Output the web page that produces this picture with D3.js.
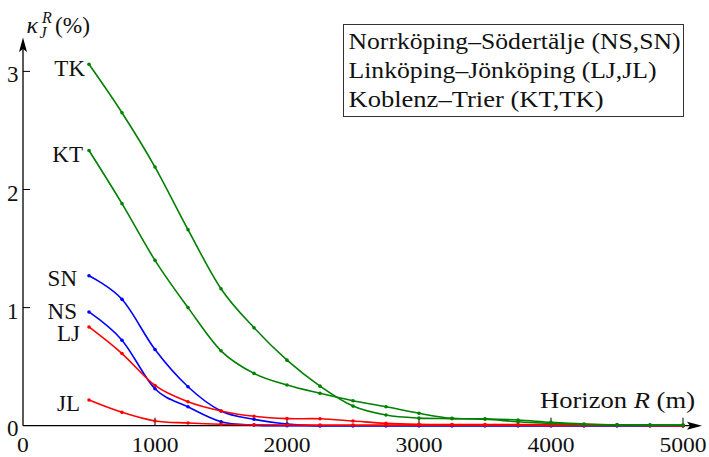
<!DOCTYPE html>
<html><head><meta charset="utf-8">
<script src="https://cdn.jsdelivr.net/npm/d3@7"></script>
<style>body{margin:0;background:#fff}svg{display:block}</style>
</head><body>
<svg id="c" width="709" height="457"></svg>
<script>
const horizons = [500,750,1000,1250,1500,1750,2000,2250,2500,2750,3000,3250,3500,3750,4000,4250,4500,4750,5000];
const NS = [0.963,0.724,0.313,0.16,0.034,0.005,0,0,0,0,0,0,0,0,0,0,0,0,0];
const SN = [1.27,1.07,0.645,0.33,0.125,0.054,0.015,0,0,0,0,0,0,0,0,0,0,0,0];
const LJ = [0.836,0.611,0.341,0.203,0.125,0.08,0.06,0.059,0.04,0.02,0.012,0.01,0.01,0.01,0.01,0.01,0.008,0.003,0];
const JL = [0.217,0.113,0.04,0.023,0.012,0.008,0.006,0.005,0.005,0.005,0.005,0.005,0.004,0.004,0.003,0.003,0.002,0.001,0];
const KT = [2.33,1.88,1.40,1.0,0.634,0.443,0.344,0.274,0.211,0.16,0.105,0.062,0.059,0.048,0.029,0.015,0.008,0.005,0.005];
const TK = [3.06,2.65,2.19,1.66,1.16,0.83,0.555,0.335,0.166,0.09,0.064,0.06,0.054,0.034,0.02,0.01,0.005,0.005,0.005];
const seriesNames = ["NS","SN","LJ","JL","KT","TK"];
const seriesValues = [NS,SN,LJ,JL,KT,TK];
const seriesColors = ["#0000ff","#0000ff","#ff0000","#ff0000","#008000","#008000"];
const legendLines = ["Norrköping–Södertälje (NS,SN)","Linköping–Jönköping (LJ,JL)","Koblenz–Trier (KT,TK)"];
const xTicks = [0,1000,2000,3000,4000,5000];
const yTicks = [0,1,2,3];

const FONT = "Liberation Serif";
const svg = d3.select("#c");
const x = d3.scaleLinear().domain([0,5000]).range([23,683]);
const y = d3.scaleLinear().domain([0,3]).range([425.7,71.4]);
const txt = (sel)=>sel.append("text").attr("font-family",FONT).attr("fill","#111");

// axes
const ax = svg.append("g");
ax.append("line").attr("x1",x(0)).attr("x2",692).attr("y1",y(0)).attr("y2",y(0)).attr("stroke","#000").attr("stroke-width",1.3);
ax.append("line").attr("x1",x(0)).attr("x2",x(0)).attr("y1",y(0)).attr("y2",46).attr("stroke","#000").attr("stroke-width",1.3);
ax.append("path").attr("d",`M${x(0)},37.5 L${x(0)-4},52 L${x(0)},49 L${x(0)+4},52 Z`).attr("fill","#000");
ax.append("path").attr("d",`M702,${y(0)} L687,${y(0)-4} L690,${y(0)} L687,${y(0)+4} Z`).attr("fill","#000");
xTicks.filter(d=>d>0).forEach(d=>{
  ax.append("line").attr("x1",x(d)).attr("x2",x(d)).attr("y1",y(0)).attr("y2",y(0)-8).attr("stroke","#000").attr("stroke-width",1);
});
xTicks.forEach(d=>{
  txt(ax).attr("x",x(d)).attr("y",452).attr("text-anchor","middle").attr("font-size",22)
    .attr("textLength",String(d).length*11.8).attr("lengthAdjust","spacingAndGlyphs").text(d);
});
yTicks.filter(d=>d>0).forEach(d=>{
  ax.append("line").attr("x1",x(0)).attr("x2",x(0)+7).attr("y1",y(d)).attr("y2",y(d)).attr("stroke","#000").attr("stroke-width",1);
});
yTicks.forEach(d=>{
  txt(ax).attr("x",18.5).attr("y",y(d)+(d===0?10:11)).attr("text-anchor","end").attr("font-size",23).text(d);
});

// y label
const yl = svg.append("g");
txt(yl).attr("x",26.5).attr("y",33).attr("font-size",24).attr("font-style","italic").text("κ");
txt(yl).attr("x",42).attr("y",23).attr("font-size",16).attr("font-style","italic").text("R");
txt(yl).attr("x",39.5).attr("y",37.5).attr("font-size",16).attr("font-style","italic").text("J");
txt(yl).attr("x",55).attr("y",32.5).attr("font-size",23).attr("textLength",35).attr("lengthAdjust","spacingAndGlyphs").text("(%)");

// x label
const xl = txt(svg).attr("x",540).attr("y",407.5).attr("font-size",23).attr("textLength",155).attr("lengthAdjust","spacingAndGlyphs");
xl.append("tspan").text("Horizon ");
xl.append("tspan").attr("font-style","italic").text("R");
xl.append("tspan").text(" (m)");

// series
const line = d3.line().x((d,i)=>x(horizons[i])).y(d=>y(d)).curve(d3.curveCardinal.tension(0));
const labelDy = {NS:6.6,SN:10,LJ:14,JL:11,KT:11,TK:12};
const labelDx = {NS:-12,SN:-12,LJ:-9,JL:-9,KT:-6,TK:-4};
seriesValues.forEach((vals,k)=>{
  const g = svg.append("g");
  g.append("path").datum(vals).attr("d",line).attr("fill","none").attr("stroke",seriesColors[k]).attr("stroke-width",1.6);
  g.selectAll("circle").data(vals).join("circle")
    .attr("cx",(d,i)=>x(horizons[i])).attr("cy",d=>y(d)).attr("r",1.8).attr("fill",seriesColors[k]);
  const nm = seriesNames[k];
  txt(g).attr("x",x(horizons[0])+labelDx[nm]).attr("y",y(vals[0])+labelDy[nm])
    .attr("text-anchor","end").attr("font-size",23).text(nm);
});

// legend
const lg = svg.append("g");
lg.append("rect").attr("x",343.5).attr("y",24.5).attr("width",340).attr("height",92).attr("fill","#fff").attr("stroke","#333").attr("stroke-width",1);
const lw = [332,308,255];
legendLines.forEach((t,i)=>{
  txt(lg).attr("x",348.5).attr("y",48.5+i*29).attr("font-size",23)
    .attr("textLength",lw[i]).attr("lengthAdjust","spacingAndGlyphs").text(t);
});
</script>
</body></html>
